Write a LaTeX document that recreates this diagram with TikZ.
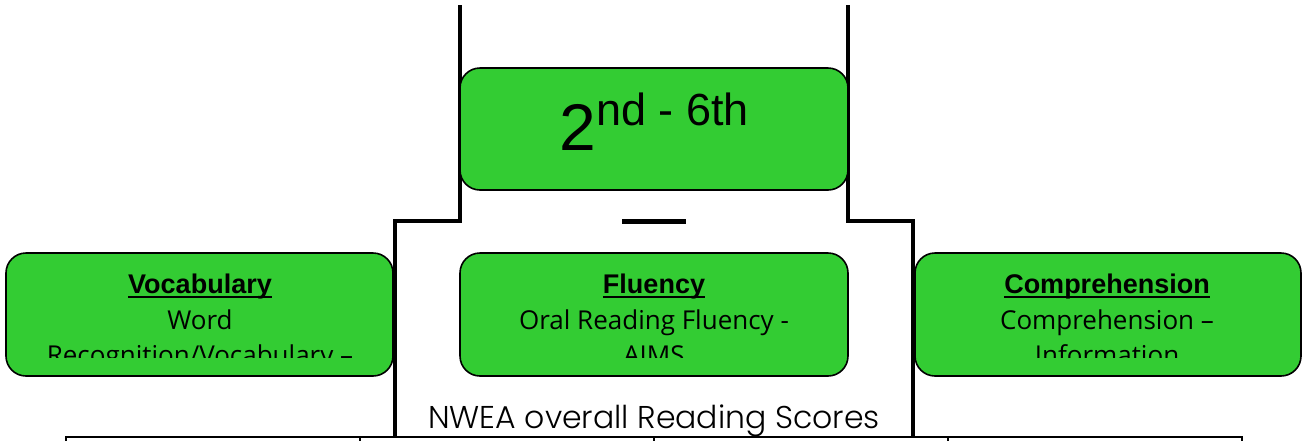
\documentclass[tikz,border=0pt]{standalone}
\usepackage{fontspec}
\setmainfont{Liberation Sans}
\newfontfamily\comicfont{Open Sans}
\newfontfamily\gothicfont{Poppins}[UprightFont=* Light]
\usetikzlibrary{calc}
\definecolor{boxgreen}{RGB}{51,204,51}
\tikzset{
  gbox/.style={draw=black, line width=1.6pt, fill=boxgreen, rounded corners=20pt, inner sep=0pt},
  tbl/.style={line width=2pt},
  frame/.style={line width=4.5pt},
  headtxt/.style={inner sep=0pt, anchor=base, font=\fontsize{27}{30}\selectfont\bfseries},
  bodytxt/.style={inner sep=0pt, anchor=base, font=\comicfont\fontsize{26}{30}\selectfont},
}
\begin{document}
\begin{tikzpicture}[x=1pt,y=-1pt]
\useasboundingbox (0,0) rectangle (1305,440);
% thick frame lines
\coordinate (lt) at (460,5);
\coordinate (lm) at (460,221);
\coordinate (ls) at (395,221);
\coordinate (lb) at (395,437);
\coordinate (rt) at (848,5);
\coordinate (rm) at (848,221);
\coordinate (rs) at (913,221);
\coordinate (rb) at (913,437);
\draw[frame] (lt) -- (lm) -- (ls) -- (lb);
\draw[frame] (rt) -- (rm) -- (rs) -- (rb);
\coordinate (d1) at (622,221);
\coordinate (d2) at (686,221);
\draw[line width=5pt] (d1) -- (d2);
% top box
\node[gbox, minimum width=388pt, minimum height=122pt] (top) at (654,129) {};
\node[inner sep=0pt, anchor=base] (toptxt) at (654,150)
  {{\fontsize{66}{76}\selectfont 2}\raisebox{25pt}{\fontsize{45}{50}\selectfont nd - 6th}};
% three boxes
\node[gbox, minimum width=387pt, minimum height=123pt] (vocab) at (199.5,314.5) {};
\node[gbox, minimum width=388pt, minimum height=123pt] (flu) at (654,314.5) {};
\node[gbox, minimum width=386pt, minimum height=123pt] (comp) at (1108,314.5) {};
\node[headtxt] (vh) at (200,293) {Vocabulary};
\node[headtxt] (fh) at (654,293) {Fluency};
\node[headtxt] (ch) at (1107,293) {Comprehension};
\foreach \n in {vh,fh,ch}
  \draw[line width=1.6pt] ($(\n.base west)+(0,4)$) -- ($(\n.base east)+(0,4)$);
\begin{scope}
  \clip (0,300) rectangle (1305,357);
  \node[bodytxt] (v2) at (200,329) {Word};
  \node[bodytxt] (v3) at (200,364) {Recognition/Vocabulary –};
  \node[bodytxt] (f2) at (654,329) {Oral Reading Fluency -};
  \node[bodytxt] (f3) at (654,364) {AIMS};
  \node[bodytxt] (c2) at (1107,329) {Comprehension –};
  \node[bodytxt] (c3) at (1107,364) {Information};
\end{scope}
% caption
\node[inner sep=0pt, anchor=base, font=\gothicfont\fontsize{31.5}{34}\selectfont] (nwea) at (654,428) {NWEA overall Reading Scores};
% table
\coordinate (t0) at (66,437);
\coordinate (t4) at (1242,437);
\draw[tbl] (t0) -- (t4);
\foreach \x in {66,360,654,948,1242}
  \draw[tbl] (\x,436) -- (\x,441);
\end{tikzpicture}
\end{document}
